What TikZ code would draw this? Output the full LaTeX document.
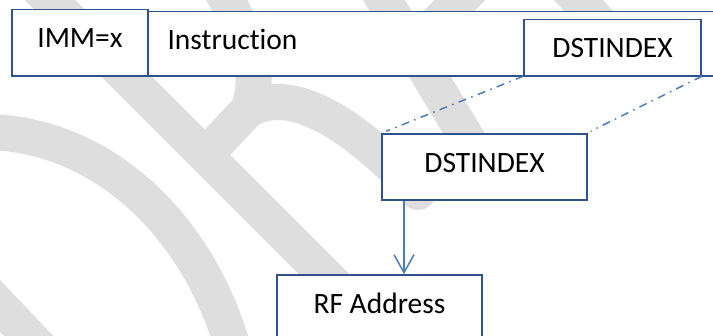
\documentclass[tikz,border=0pt]{standalone}
\usepackage{fontspec}
\setmainfont{Carlito}[Ligatures={NoCommon}]
\usetikzlibrary{arrows.meta,calc}
\definecolor{boxblue}{RGB}{47,82,143}
\definecolor{lineblue}{RGB}{74,126,187}
\definecolor{wmgray}{RGB}{222,222,222}
\tikzset{
  wm/.style={draw=wmgray, line width=36pt},
  box/.style={draw=boxblue, line width=1.6pt, fill=white, inner sep=0pt, text depth=0pt,
              font=\fontsize{29.5}{35}\selectfont},
  dashdot/.style={draw=lineblue, line width=1.5pt,
              dash pattern=on 8pt off 5.5pt on 1.5pt off 5.5pt},
  arrowline/.style={draw=lineblue, line width=1.5pt,
              -{Straight Barb[length=18pt,width=20pt]}}
}
\begin{document}
\begin{tikzpicture}[x=1pt,y=-1pt]
\useasboundingbox (0,0) rectangle (713,336);
\clip (0,0) rectangle (713,336);
\fill[white] (0,0) rectangle (713,336);
% watermark
\draw[wm] (-30,132) .. controls (95,126) and (195,220) .. (232,345);
\draw[wm] (-40,264) -- (60,369);
\draw[wm] (30,-20) -- (420,370);
\draw[wm, line join=round] (215,-20) .. controls (240,20) and (265,70) .. (248,110) -- (212,148);
\draw[wm, line cap=round] (248,110) .. controls (285,88) and (340,110) .. (418,192);
\draw[wm, line cap=round] (375,-15) -- (475,152);
\draw[wm] (500,-40) -- (420,40);
\draw[wm] (560,-20) -- (620,45);
% boxes
\node[box, minimum width=136pt, minimum height=66.5pt, text height=10.5pt] (imm) at (80,42.75) {IMM=x};
\node[box, minimum width=582pt, minimum height=64.5pt, text height=12.5pt] (instr) at (439,43.75)
  {\hspace*{19.5pt}\makebox[543pt][l]{Instruction}\hspace*{19.5pt}};
\node[box, minimum width=177pt, minimum height=56pt, text height=21pt] (dst1) at (612.5,47.5) {DSTINDEX};
\node[box, minimum width=205pt, minimum height=66pt, text height=12pt] (dst2) at (484.5,167) {DSTINDEX};
\node[box, minimum width=205pt, minimum height=66pt, text height=12pt] (rf) at (379.5,308) {RF Address};
% connectors
\draw[dashdot] (dst1.south west) -- ($(dst2.north west)+(5,-2)$);
\draw[dashdot] (dst1.south east) -- ($(dst2.north east)+(3,-2)$);
\coordinate (ax) at (404,0);
\draw[arrowline] (dst2.south -| ax) -- (rf.north -| ax);
\end{tikzpicture}
\end{document}
